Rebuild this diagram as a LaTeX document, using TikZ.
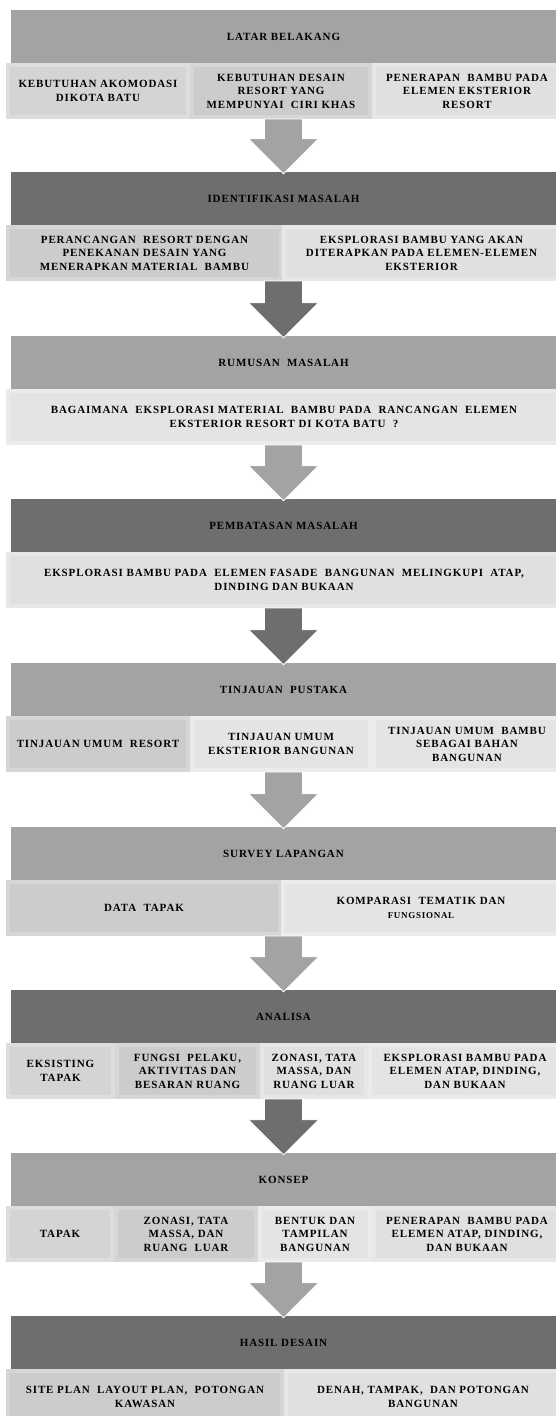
\documentclass[tikz,border=0pt]{standalone}
\usepackage{fontspec}
\setmainfont{Liberation Serif}[LetterSpace=8]
\usetikzlibrary{calc}
\definecolor{hl}{HTML}{A3A3A3}
\definecolor{hd}{HTML}{6E6E6E}
\definecolor{ia}{HTML}{CCCCCC}\definecolor{fa}{HTML}{D6D6D6}
\definecolor{ib}{HTML}{D4D4D4}\definecolor{fb}{HTML}{DDDDDD}
\definecolor{ic}{HTML}{E0E0E0}\definecolor{fc}{HTML}{E7E7E7}
\definecolor{id}{HTML}{E4E4E4}\definecolor{fd}{HTML}{EBEBEB}
\tikzset{
  txt/.style={font=\bfseries\fontsize{11}{13.5}\selectfont, text=black, align=center},
  hdr/.style={txt, rectangle, inner sep=0pt, minimum width=545pt, minimum height=53pt},
  hdrL/.style={hdr, fill=hl},
  hdrD/.style={hdr, fill=hd},
  sub/.style={txt, rectangle, inner sep=0pt, line width=4pt, minimum height=52pt},
  sA/.style={sub, fill=ia, draw=fa},
  sB/.style={sub, fill=ib, draw=fb},
  sC/.style={sub, fill=ic, draw=fc},
  sD/.style={sub, fill=id, draw=fd},
  blk/.style={draw=white, line width=0.8pt},
  small/.style={font=\bfseries\fontsize{8.5}{10}\selectfont}
}
% block arrow from coordinate #1 down to the top of header node #2, fill colour #3
\newcommand\blockarr[3]{\fill[blk, fill=#3] ($(#1)+(-19,0)$) -- ($(#1)+(19,0)$) -- ($(#2.north)+(19,-33)$) -- ($(#2.north)+(35,-33)$) -- ($(#2.north)+(0,2)$) -- ($(#2.north)+(-35,-33)$) -- ($(#2.north)+(-19,-33)$) -- cycle;}
\begin{document}
\begin{tikzpicture}[x=1pt,y=-1pt]
\useasboundingbox[fill=white] (0,0) rectangle (556,1416);
% ---------- 1
\node[sB, minimum width=180pt] (s11) at (98,91) {KEBUTUHAN AKOMODASI\\DIKOTA BATU};
\node[sA, minimum width=178pt] (s12) at (281,91) {KEBUTUHAN DESAIN\\RESORT YANG\\MEMPUNYAI\ \ CIRI KHAS};
\node[sC, minimum width=186pt] (s13) at (467,91) {PENERAPAN\ \ BAMBU PADA\\ELEMEN EKSTERIOR\\RESORT};
\node[hdrL] (h1) at (283.5,36.5) {LATAR BELAKANG};
\coordinate (b1) at (283.5,119);
% ---------- 2
\node[sA, minimum width=273pt] (s21) at (144.5,253) {PERANCANGAN\ \ RESORT DENGAN\\PENEKANAN DESAIN YANG\\MENERAPKAN MATERIAL\ \ BAMBU};
\node[sC, minimum width=275pt] (s22) at (421.5,253) {EKSPLORASI BAMBU YANG AKAN\\DITERAPKAN PADA ELEMEN-ELEMEN\\EKSTERIOR};
\node[hdrD] (h2) at (283.5,198.5) {IDENTIFIKASI MASALAH};
\coordinate (b2) at (283.5,281);
% ---------- 3
\node[sD, minimum width=552pt] (s31) at (284,417) {BAGAIMANA\ \ EKSPLORASI MATERIAL\ \ BAMBU PADA\ \ RANCANGAN\ \ ELEMEN\\EKSTERIOR RESORT DI KOTA BATU\ \ ?};
\node[hdrL] (h3) at (283.5,362.5) {RUMUSAN\ \ MASALAH};
\coordinate (b3) at (283.5,445);
% ---------- 4
\node[sC, minimum width=552pt] (s41) at (284,580) {EKSPLORASI BAMBU PADA\ \ ELEMEN FASADE\ \ BANGUNAN\ \ MELINGKUPI\ \ ATAP,\\DINDING DAN BUKAAN};
\node[hdrD] (h4) at (283.5,525.5) {PEMBATASAN MASALAH};
\coordinate (b4) at (283.5,608);
% ---------- 5
\node[sA, minimum width=180pt] (s51) at (98,744) {TINJAUAN UMUM\ \ RESORT};
\node[sD, minimum width=178pt] (s52) at (281,744) {TINJAUAN UMUM\\EKSTERIOR BANGUNAN};
\node[sD, minimum width=186pt] (s53) at (467,744) {TINJAUAN UMUM\ \ BAMBU\\SEBAGAI BAHAN\\BANGUNAN};
\node[hdrL] (h5) at (283.5,689.5) {TINJAUAN\ \ PUSTAKA};
\coordinate (b5) at (283.5,772);
% ---------- 6
\node[sA, minimum width=272pt] (s61) at (144,908) {DATA\ \ TAPAK};
\node[sD, minimum width=276pt] (s62) at (421,908) {KOMPARASI\ \ TEMATIK DAN\\{\small FUNGSIONAL}};
\node[hdrL] (h6) at (283.5,853.5) {SURVEY LAPANGAN};
\coordinate (b6) at (283.5,936);
% ---------- 7
\node[sB, minimum width=105pt] (s71) at (60.5,1071) {EKSISTING\\TAPAK};
\node[sA, minimum width=141pt] (s72) at (187.5,1071) {FUNGSI\ \ PELAKU,\\AKTIVITAS DAN\\BESARAN RUANG};
\node[sC, minimum width=104pt] (s73) at (314,1071) {ZONASI, TATA\\MASSA, DAN\\RUANG LUAR};
\node[sD, minimum width=190pt] (s74) at (465,1071) {EKSPLORASI BAMBU PADA\\ELEMEN ATAP, DINDING,\\DAN BUKAAN};
\node[hdrD] (h7) at (283.5,1016.5) {ANALISA};
\coordinate (b7) at (283.5,1099);
% ---------- 8
\node[sB, minimum width=104pt] (s81) at (60,1234) {TAPAK};
\node[sA, minimum width=140pt] (s82) at (186,1234) {ZONASI, TATA\\MASSA, DAN\\RUANG\ \ LUAR};
\node[sD, minimum width=110pt] (s83) at (315,1234) {BENTUK DAN\\TAMPILAN\\BANGUNAN};
\node[sC, minimum width=186pt] (s84) at (467,1234) {PENERAPAN\ \ BAMBU PADA\\ELEMEN ATAP, DINDING,\\DAN BUKAAN};
\node[hdrL] (h8) at (283.5,1179.5) {KONSEP};
\coordinate (b8) at (283.5,1262);
% ---------- 9
\node[sA, minimum width=274pt] (s91) at (145,1397) {SITE PLAN\ \ LAYOUT PLAN,\ \ POTONGAN\\KAWASAN};
\node[sC, minimum width=274pt] (s92) at (423,1397) {DENAH, TAMPAK,\ \ DAN POTONGAN\\BANGUNAN};
\node[hdrD] (h9) at (283.5,1342.5) {HASIL DESAIN};
% ---------- arrows
\blockarr{b1}{h2}{hl}
\blockarr{b2}{h3}{hd}
\blockarr{b3}{h4}{hl}
\blockarr{b4}{h5}{hd}
\blockarr{b5}{h6}{hl}
\blockarr{b6}{h7}{hl}
\blockarr{b7}{h8}{hd}
\blockarr{b8}{h9}{hl}
\end{tikzpicture}
\end{document}
